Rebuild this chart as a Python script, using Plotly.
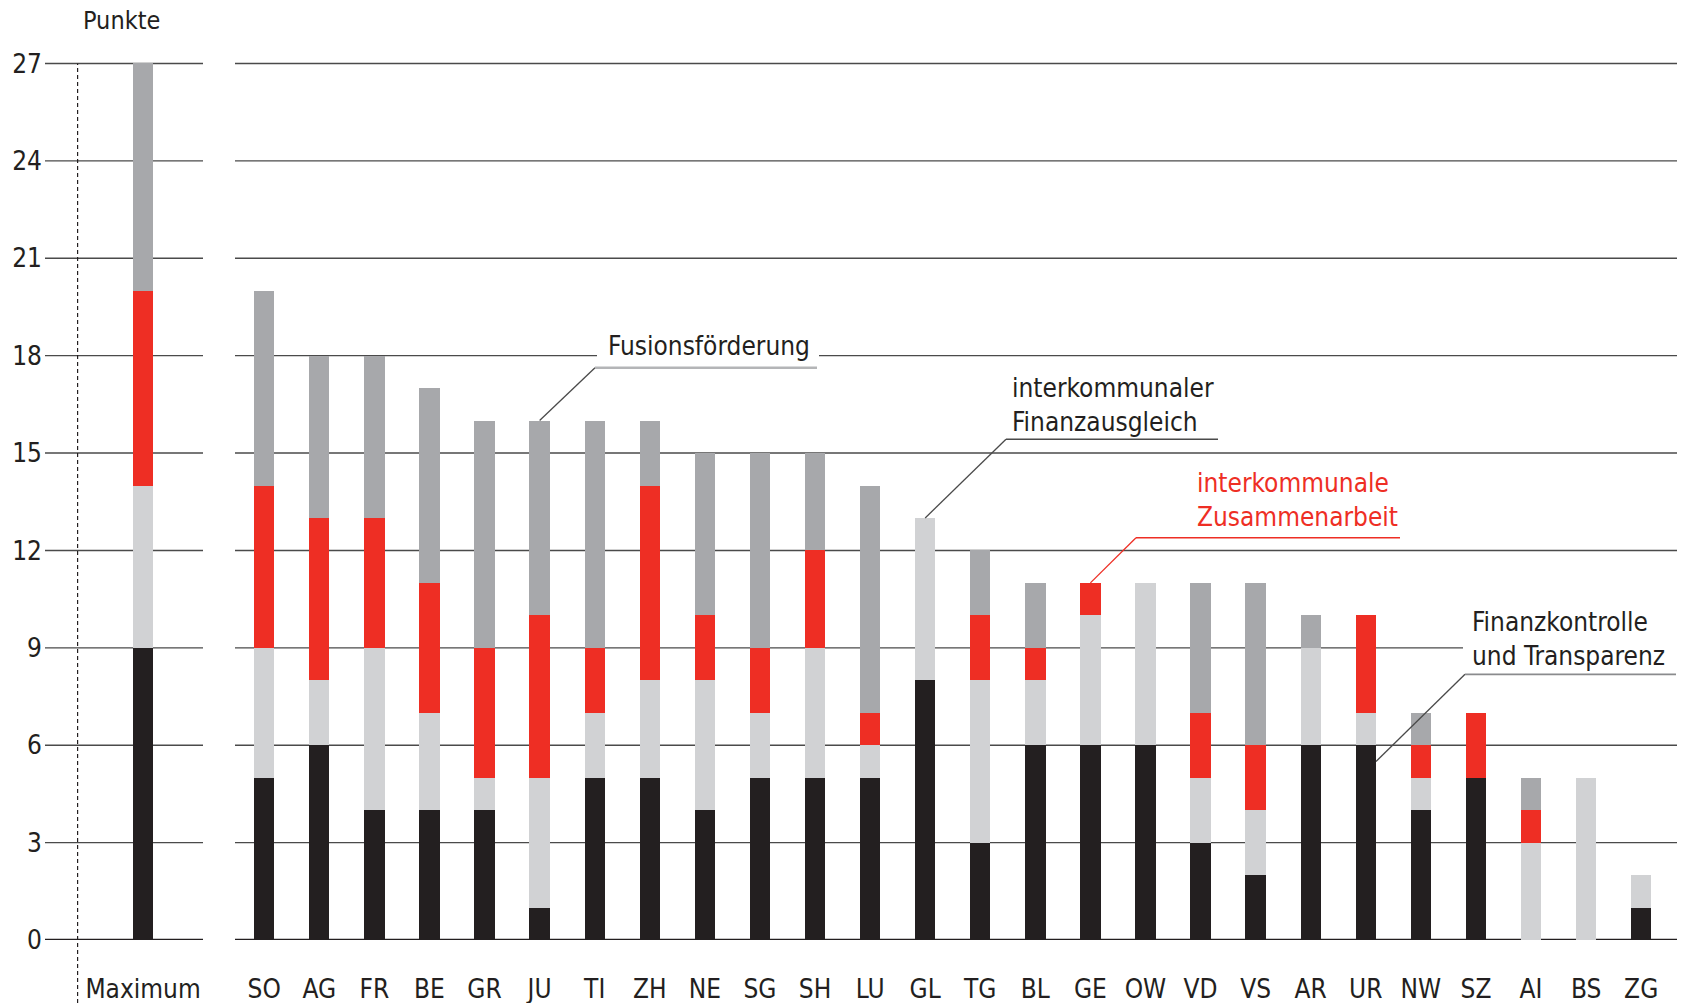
import plotly.graph_objects as go

# ---------------- data ----------------
categories = ["Maximum", "SO", "AG", "FR", "BE", "GR", "JU", "TI", "ZH", "NE", "SG", "SH", "LU",
              "GL", "TG", "BL", "GE", "OW", "VD", "VS", "AR", "UR", "NW", "SZ", "AI", "BS", "ZG"]
finanzkontrolle = [9, 5, 6, 4, 4, 4, 1, 5, 5, 4, 5, 5, 5, 8, 3, 6, 6, 6, 3, 2, 6, 6, 4, 5, 0, 0, 1]
finanzausgleich = [5, 4, 2, 5, 3, 1, 4, 2, 3, 4, 2, 4, 1, 5, 5, 2, 4, 5, 2, 2, 3, 1, 1, 0, 3, 5, 1]
zusammenarbeit = [6, 5, 5, 4, 4, 4, 5, 2, 6, 2, 2, 3, 1, 0, 2, 1, 1, 0, 2, 2, 0, 3, 1, 2, 1, 0, 0]
fusion = [7, 6, 5, 5, 6, 7, 6, 7, 2, 5, 6, 3, 7, 0, 2, 2, 0, 0, 4, 5, 1, 0, 1, 0, 1, 0, 0]
y_ticks = [0, 3, 6, 9, 12, 15, 18, 21, 24, 27]

# ---------------- layout constants ----------------
WIDTH, HEIGHT = 1691, 1003
L, R, T, B = 45, 14, 44, 63
XR = [-3.98, 25.65]
YR = [0, 27.6]
PW, PH = WIDTH - L - R, HEIGHT - T - B
MAX_OFFSET = -2.2  # position of the "Maximum" bar relative to first canton

FONT = "DejaVu Sans Condensed, Liberation Sans Narrow, sans-serif"
INK = "#231f20"
C_BLACK, C_LIGHT, C_RED, C_DARK = "#231f20", "#d1d2d4", "#ee2e24", "#a7a8ab"


def X(px):
    return XR[0] + (px - L) / PW * (XR[1] - XR[0])


def Y(py):
    return YR[1] - (py - T) / PH * (YR[1] - YR[0])


xpos = [MAX_OFFSET] + list(range(len(categories) - 1))

fig = go.Figure()
for vals, col, name in [(finanzkontrolle, C_BLACK, "Finanzkontrolle und Transparenz"),
                        (finanzausgleich, C_LIGHT, "interkommunaler Finanzausgleich"),
                        (zusammenarbeit, C_RED, "interkommunale Zusammenarbeit"),
                        (fusion, C_DARK, "Fusionsförderung")]:
    fig.add_trace(go.Bar(x=xpos, y=vals, name=name, marker=dict(color=col, line=dict(width=0)),
                         width=0.37, showlegend=False, hoverinfo="y+name"))

shapes = []
# gridlines: two segments (Maximum block / cantons block), with gaps for labels
left_seg = (X(45), X(203))
right_seg = (X(235), X(1677))
for v in y_ticks:
    w = 2.5 if v == 0 else 1.4
    c = INK if v == 0 else "#4a4a4a"
    shapes.append(dict(type="line", xref="x", yref="y", x0=left_seg[0], x1=left_seg[1], y0=v, y1=v,
                       line=dict(color=c, width=w), layer="below"))
    if v == 18:
        segs = [(right_seg[0], X(597)), (X(819), right_seg[1])]
    elif v == 9:
        segs = [(right_seg[0], X(1463))]
    else:
        segs = [right_seg]
    for a, b in segs:
        shapes.append(dict(type="line", xref="x", yref="y", x0=a, x1=b, y0=v, y1=v,
                           line=dict(color=c, width=w), layer="below"))

# dashed separator line
shapes.append(dict(type="line", xref="x", yref="paper", x0=X(77.6), x1=X(77.6),
                   y0=-(HEIGHT - T - PH) / PH, y1=y_ticks[-1] / YR[1],
                   line=dict(color=INK, width=1.2, dash="4px,3px")))


def total(i):
    return finanzkontrolle[i] + finanzausgleich[i] + zusammenarbeit[i] + fusion[i]


def leader(bar_idx, bar_y, knee_px, under_end_px, y_px, col_lead, col_under, w_under):
    xb = xpos[bar_idx]
    shapes.append(dict(type="line", xref="x", yref="y", x0=xb, y0=bar_y, x1=X(knee_px), y1=Y(y_px),
                       line=dict(color=col_lead, width=1.3)))
    shapes.append(dict(type="line", xref="x", yref="y", x0=X(knee_px), y0=Y(y_px), x1=X(under_end_px), y1=Y(y_px),
                       line=dict(color=col_under, width=w_under)))


iJU = categories.index("JU")
iGL = categories.index("GL")
iGE = categories.index("GE")
iUR = categories.index("UR")
leader(iJU, total(iJU), 595, 817, 367.7, "#4a4a4a", "#b4b5b7", 2.5)
leader(iGL, total(iGL), 1006, 1218, 439.3, "#4a4a4a", "#4a4a4a", 1.6)
leader(iGE, total(iGE), 1136, 1400, 537.7, C_RED, C_RED, 1.4)
# Finanzkontrolle leader ends at right edge of UR bar inside black segment
shapes.append(dict(type="line", xref="x", yref="y", x0=xpos[iUR] + 0.185, y0=finanzkontrolle[iUR] - 0.5,
                   x1=X(1465), y1=Y(674.3), line=dict(color="#4a4a4a", width=1.3)))
shapes.append(dict(type="line", xref="x", yref="y", x0=X(1465), y0=Y(674.3), x1=X(1676), y1=Y(674.3),
                   line=dict(color="#8a8b8d", width=1.8)))

annotations = [
    dict(text="Punkte", xref="paper", yref="paper", x=(121.5 - L) / PW, y=(HEIGHT - 20 - B) / PH,
         xanchor="center", yanchor="middle", showarrow=False, font=dict(size=25, color=INK, family=FONT)),
    dict(text="Fusionsförderung", xref="x", yref="y", x=X(708.5), y=Y(346), xanchor="center",
         yanchor="middle", showarrow=False, font=dict(size=26, color=INK, family=FONT)),
    dict(text="interkommunaler<br>Finanzausgleich", xref="x", yref="y", x=X(1010), y=Y(405),
         xanchor="left", yanchor="middle", align="left", showarrow=False,
         font=dict(size=26, color=INK, family=FONT)),
    dict(text="interkommunale<br>Zusammenarbeit", xref="x", yref="y", x=X(1195), y=Y(500),
         xanchor="left", yanchor="middle", align="left", showarrow=False,
         font=dict(size=26, color=C_RED, family=FONT)),
    dict(text="Finanzkontrolle<br>und Transparenz", xref="x", yref="y", x=X(1470), y=Y(638.5),
         xanchor="left", yanchor="middle", align="left", showarrow=False,
         font=dict(size=26, color=INK, family=FONT)),
]

fig.update_layout(
    width=WIDTH, height=HEIGHT, barmode="stack", bargap=0,
    margin=dict(l=L, r=R, t=T, b=B, pad=0, autoexpand=False),
    paper_bgcolor="white", plot_bgcolor="white",
    font=dict(family=FONT, size=25, color=INK),
    shapes=shapes, annotations=annotations,
    xaxis=dict(range=XR, tickmode="array", tickvals=xpos, ticktext=categories, showgrid=False,
               zeroline=False, showline=False, ticks="", ticklabelstandoff=31, automargin=False,
               tickfont=dict(size=26, family=FONT, color=INK), fixedrange=True),
    yaxis=dict(range=YR, tickmode="array", tickvals=y_ticks, ticktext=[str(v) for v in y_ticks],
               showgrid=False, zeroline=False, showline=False, ticks="", ticklabelstandoff=2,
               automargin=False, tickfont=dict(size=26, family=FONT, color=INK), fixedrange=True),
)

fig.write_html("out.html", config={"displayModeBar": False},
               post_script="document.body.style.margin='0';document.body.style.overflow='hidden';")
